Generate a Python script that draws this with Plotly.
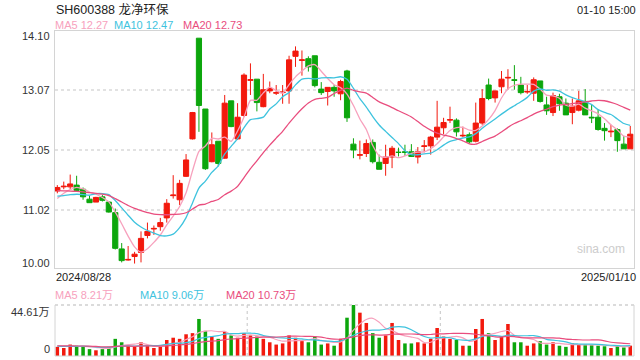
import plotly.graph_objects as go
import pandas as pd

# ---------------- data ----------------
first_date = "2024/08/28"
last_date = "2025/01/10"
stamp = "01-10 15:00"
title = "SH600388 龙净环保"

# closes / volumes before the window (only used to seed moving averages)
pre_close = [11.50, 11.55, 11.48, 11.42, 11.40, 11.45, 11.50, 11.47, 11.40, 11.33,
             11.35, 11.30, 11.28, 11.30, 11.27, 10.98, 11.17, 11.16, 11.39]
pre_volume = [10, 9, 11, 8, 9, 10, 12, 9, 8, 7, 9, 10, 8, 7, 9, 8, 10, 9, 8]

open_ = [11.35, 11.42, 11.42, 11.45, 11.38, 11.21, 11.16, 11.25, 11.16, 10.98,
         10.36, 10.17, 10.23, 10.30, 10.59, 10.70, 10.74, 10.89, 11.27, 11.20,
         11.60, 12.24, 13.96, 12.75, 11.85, 12.20, 11.91, 12.89, 12.24, 12.64,
         13.24, 13.26, 12.79, 13.06, 13.02, 13.03, 13.06, 13.65, 13.58, 13.61,
         13.66, 13.09, 13.05, 13.12, 13.01, 13.40, 12.15, 11.96, 11.99, 12.18,
         11.84, 11.82, 11.93, 12.01, 12.02, 12.02, 11.93, 12.11, 12.12, 12.27,
         12.43, 12.56, 12.56, 12.29, 12.31, 12.20, 12.51, 13.16, 12.94, 13.13,
         13.28, 13.25, 13.16, 13.04, 13.02, 13.23, 12.82, 12.69, 12.96, 12.85,
         12.69, 12.73, 12.88, 12.61, 12.61, 12.42, 12.36, 12.40, 12.15, 12.07]
high = [11.45, 11.51, 11.63, 11.61, 11.41, 11.27, 11.25, 11.28, 11.17, 11.05,
        10.46, 10.41, 10.31, 10.66, 10.81, 10.76, 10.89, 11.21, 11.62, 11.54,
        11.98, 12.70, 13.96, 12.75, 12.35, 12.20, 12.99, 12.89, 12.85, 13.36,
        13.53, 13.26, 13.35, 13.22, 13.16, 13.16, 13.66, 13.82, 13.75, 13.65,
        13.66, 13.21, 13.12, 13.16, 13.25, 13.42, 12.25, 12.21, 12.23, 12.23,
        11.97, 12.14, 12.12, 12.09, 12.14, 12.15, 12.10, 12.22, 12.29, 12.89,
        12.60, 12.79, 12.59, 12.45, 12.35, 12.86, 13.09, 13.27, 13.06, 13.40,
        13.43, 13.50, 13.30, 13.16, 13.29, 13.23, 12.96, 13.03, 13.01, 12.93,
        12.93, 13.06, 13.09, 12.82, 12.75, 12.51, 12.48, 12.42, 12.29, 12.46]
low = [11.31, 11.38, 11.38, 11.34, 11.20, 11.15, 11.16, 11.17, 10.98, 10.35,
       10.13, 10.16, 10.11, 10.13, 10.54, 10.60, 10.67, 10.81, 11.22, 11.11,
       11.59, 12.23, 12.36, 11.71, 11.84, 11.77, 11.90, 12.44, 12.22, 12.62,
       12.99, 12.71, 12.78, 13.02, 12.99, 12.84, 12.84, 13.47, 13.32, 13.39,
       13.12, 12.99, 12.81, 12.96, 12.90, 12.53, 11.91, 11.89, 11.93, 11.82,
       11.72, 11.61, 11.74, 11.94, 11.95, 11.93, 11.82, 12.01, 11.97, 12.22,
       12.32, 12.51, 12.28, 12.27, 12.16, 12.18, 12.48, 12.90, 12.86, 13.02,
       13.08, 13.08, 13.00, 13.01, 12.89, 12.86, 12.65, 12.63, 12.72, 12.65,
       12.49, 12.71, 12.65, 12.51, 12.38, 12.21, 12.27, 12.02, 12.07, 12.07]
close = [11.41, 11.43, 11.47, 11.36, 11.25, 11.15, 11.24, 11.19, 10.99, 10.37,
         10.16, 10.18, 10.27, 10.54, 10.66, 10.71, 10.81, 11.14, 11.28, 11.48,
         11.88, 12.69, 12.81, 11.73, 12.14, 11.82, 12.85, 12.45, 12.61, 13.33,
         13.25, 12.86, 13.08, 13.10, 13.03, 13.04, 13.59, 13.74, 13.59, 13.47,
         13.15, 13.03, 13.12, 13.06, 13.22, 12.60, 12.05, 11.97, 12.16, 11.85,
         11.72, 11.93, 12.08, 12.01, 12.01, 11.94, 12.02, 12.12, 12.27, 12.44,
         12.52, 12.57, 12.36, 12.30, 12.19, 12.51, 12.93, 12.93, 13.06, 13.26,
         13.29, 13.24, 13.03, 13.05, 13.25, 12.88, 12.72, 12.98, 12.84, 12.65,
         12.80, 12.89, 12.65, 12.60, 12.40, 12.38, 12.37, 12.21, 12.07, 12.32]
volume = [8, 7, 10, 9, 8, 6, 5, 6, 8, 15,
          12, 9, 8, 12, 9, 7, 8, 14, 16, 15,
          19, 20, 32.4, 22, 17, 15, 21, 18, 16, 20,
          18, 17, 15, 12, 10, 11, 18, 16, 13, 12,
          17, 10, 11, 9, 15, 33.5, 44.61, 37.9, 28.9, 20,
          16, 18, 28.9, 14, 11, 11, 12, 11, 15, 24.5,
          17, 15, 14, 9, 9, 23.6, 32.4, 20, 14, 17,
          28, 12, 12, 9, 11, 13, 10, 12, 9, 8,
          11, 10, 10, 9.5, 9.05, 8.5, 7, 9, 7.5, 9.05]
vol_max_label = "44.61万"
price_ticks = [10.00, 11.025, 12.05, 13.075, 14.10]
price_tick_text = ["10.00", "11.02", "12.05", "13.07", "14.10"]

# ---------------- derived ----------------
n = len(close)
xs = list(range(n))
cs = pd.Series(pre_close + close)
vs = pd.Series(pre_volume + volume)
ma = {k: cs.rolling(k).mean().iloc[len(pre_close):].tolist() for k in (5, 10, 20)}
vma = {k: vs.rolling(k).mean().iloc[len(pre_volume):].tolist() for k in (5, 10, 20)}

RED = "#f2190d"
GREEN = "#0ca60c"
C5 = "#f7a1bd"
C10 = "#3ec3de"
C20 = "#e94d7e"
FONT = "Liberation Sans, Arial, Noto Sans CJK SC, sans-serif"

W, H = 640, 360
def py(v):
    return 1 - v / H
def px(v):
    return v / W

x_dom = [px(55), px(634)]
p_dom = [py(268), py(31)]
v_dom = [py(356), py(305)]
x_rng = [-0.36, 89.58]
p_rng = [10.034, 14.083]
v_rng = [0, 44.61]

fig = go.Figure()
fig.add_trace(go.Candlestick(
    x=xs, open=open_, high=high, low=low, close=close,
    increasing=dict(line=dict(color=RED, width=1), fillcolor=RED),
    decreasing=dict(line=dict(color=GREEN, width=1), fillcolor=GREEN),
    whiskerwidth=0, xaxis="x", yaxis="y", hoverinfo="skip"))
for k, c in ((5, C5), (10, C10), (20, C20)):
    fig.add_trace(go.Scatter(x=xs, y=ma[k], mode="lines",
                             line=dict(color=c, width=1.3, shape="spline", smoothing=0.6),
                             xaxis="x", yaxis="y", hoverinfo="skip"))

vcolors = [RED if c >= o else GREEN for o, c in zip(open_, close)]
fig.add_trace(go.Bar(x=xs, y=volume, marker=dict(color=vcolors, line=dict(width=0)),
                     width=0.55, xaxis="x2", yaxis="y2", hoverinfo="skip"))
for k, c in ((5, C5), (10, C10), (20, C20)):
    fig.add_trace(go.Scatter(x=xs, y=vma[k], mode="lines",
                             line=dict(color=c, width=1.2, shape="spline", smoothing=0.6),
                             xaxis="x2", yaxis="y2", hoverinfo="skip"))

BORDER = "#d4d4d4"
GRID = "#e2e2e2"
fig.update_layout(
    width=W, height=H, margin=dict(l=0, r=0, t=0, b=0),
    paper_bgcolor="white", plot_bgcolor="white", showlegend=False,
    boxgap=0.2, boxgroupgap=0,
    font=dict(family=FONT, size=11, color="#333"),
    xaxis=dict(domain=x_dom, range=x_rng, showgrid=False, zeroline=False,
               showticklabels=False, rangeslider=dict(visible=False),
               showline=True, mirror=True, linecolor=BORDER, linewidth=1,
               anchor="y", fixedrange=True),
    yaxis=dict(domain=p_dom, range=p_rng, tickvals=price_ticks[1:4], showticklabels=False,
               showgrid=True, gridcolor=GRID, gridwidth=1.5, griddash="dot", zeroline=False,
               showline=True, mirror=True, linecolor=BORDER, linewidth=1, anchor="x"),
    xaxis2=dict(domain=x_dom, range=x_rng, showgrid=False, zeroline=False,
                showticklabels=False, anchor="y2"),
    yaxis2=dict(domain=v_dom, range=v_rng, showgrid=False, zeroline=False,
                showticklabels=False, anchor="x2"),
)

shapes = [
    dict(type="line", xref="paper", yref="paper", x0=x_dom[0], x1=x_dom[1], y0=v_dom[1], y1=v_dom[1],
         line=dict(color="#cfcfcf", width=1.5, dash="dot")),
    dict(type="line", xref="paper", yref="paper", x0=x_dom[0], x1=x_dom[1], y0=v_dom[0], y1=v_dom[0],
         line=dict(color=BORDER, width=1)),
    dict(type="line", xref="paper", yref="paper", x0=x_dom[0], x1=x_dom[0], y0=v_dom[0], y1=v_dom[1],
         line=dict(color=BORDER, width=1)),
    dict(type="line", xref="paper", yref="paper", x0=x_dom[1], x1=x_dom[1], y0=v_dom[0], y1=v_dom[1],
         line=dict(color=BORDER, width=1)),
]
for xv in (29.5, 59.5):
    shapes.append(dict(type="line", xref="x2", yref="paper", x0=xv, x1=xv, y0=v_dom[0], y1=v_dom[1],
                       line=dict(color="#cfcfcf", width=1.2, dash="dot"), layer="below"))
fig.update_layout(shapes=shapes)

ann = []
def text(x, y, s, color="#333", size=11, xanchor="left", yanchor="middle", xref="paper", yref="paper"):
    ann.append(dict(x=x, y=y, xref=xref, yref=yref, text=s, showarrow=False,
                    xanchor=xanchor, yanchor=yanchor, font=dict(color=color, size=size, family=FONT),
                    borderpad=0))

text(px(55), py(10), title, color="#222", size=12.5)
text(px(637), py(10), stamp, color="#222", size=11, xanchor="right")
text(px(54), py(25), "MA5 %.2f" % ma[5][-1], color=C5)
text(px(113), py(25), "MA10 %.2f" % ma[10][-1], color=C10)
text(px(182), py(25), "MA20 %.2f" % ma[20][-1], color=C20)
label_px = {price_ticks[0]: 263, price_ticks[-1]: 36}
for v, s in zip(price_ticks, price_tick_text):
    if v in label_px:
        text(px(51), py(label_px[v]), s, xanchor="right")
    else:
        text(px(51), v, s, xanchor="right", yref="y")
text(px(55), py(277), first_date, color="#222")
text(px(637), py(277), last_date, color="#222", xanchor="right")
text(px(54), py(295), "MA5 %.2f万" % vma[5][-1], color=C5)
text(px(139), py(295), "MA10 %.2f万" % vma[10][-1], color=C10)
text(px(225), py(295), "MA20 %.2f万" % vma[20][-1], color=C20)
text(px(51), v_rng[1], vol_max_label, xanchor="right", yanchor="top", yref="y2")
text(px(51), v_rng[0], "0", xanchor="right", yanchor="bottom", yref="y2")
text(px(626), py(249), "sina.com", color="#cccccc", size=12, xanchor="right")
fig.update_layout(annotations=ann)

fig.write_html("out.html")
